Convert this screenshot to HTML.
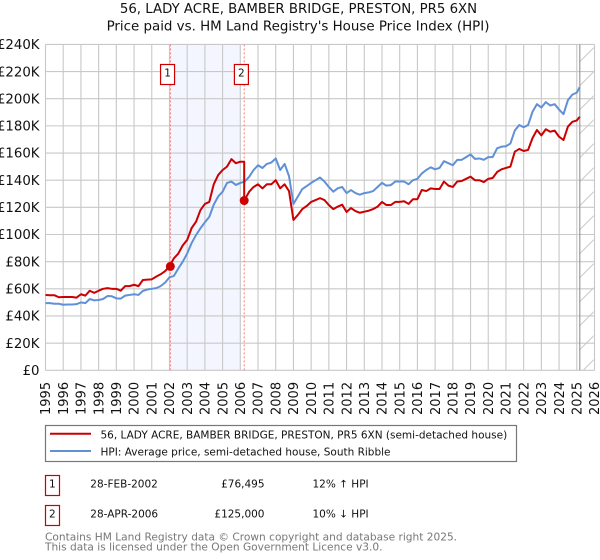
<!DOCTYPE html>
<html>
<head>
<meta charset="utf-8">
<title>56, LADY ACRE price paid vs HPI</title>
<style>
html,body{margin:0;padding:0;background:#fff}
svg{display:block}
text{font-family:"DejaVu Sans",sans-serif;fill:#111}
</style>
</head>
<body>
<svg id="chart" width="600" height="560" viewBox="0 0 600 560" xmlns="http://www.w3.org/2000/svg">
<defs>
<pattern id="hatch" patternUnits="userSpaceOnUse" width="24" height="24" patternTransform="translate(17.5,0)">
<line x1="0" y1="24" x2="24" y2="0" stroke="#ccc" stroke-width="1.1"/>
</pattern>
</defs>
<text x="298.5" y="13" text-anchor="middle" font-size="13.3">56, LADY ACRE, BAMBER BRIDGE, PRESTON, PR5 6XN</text>
<text x="298" y="30.5" text-anchor="middle" font-size="13.4">Price paid vs. HM Land Registry's House Price Index (HPI)</text>
<rect id="shade" fill="#f3f6fe"/>
<rect id="hatchArea" fill="url(#hatch)"/>
<g id="grid"></g>
<g id="axes"></g>
<g id="saleLines"></g>
<path id="hpiLine" fill="none" stroke="#6090d6" stroke-width="2" stroke-linejoin="round"/>
<path id="paidLine" fill="none" stroke="#cc0000" stroke-width="2" stroke-linejoin="round"/>
<g id="saleMarkers"></g>

<rect x="45.5" y="425.5" width="471" height="36" fill="#fff" stroke="#777" stroke-width="1.2"/>
<line x1="50" x2="91" y1="433.7" y2="433.7" stroke="#cc0000" stroke-width="2"/>
<line x1="50" x2="91" y1="451" y2="451" stroke="#6090d6" stroke-width="2"/>
<text x="100.5" y="438.5" font-size="10.5">56, LADY ACRE, BAMBER BRIDGE, PRESTON, PR5 6XN (semi-detached house)</text>
<text x="100.5" y="455.5" font-size="10.5">HPI: Average price, semi-detached house, South Ribble</text>

<rect x="45.5" y="475.5" width="14" height="20" fill="#fff" stroke="#cc0000" stroke-width="1.2"/>
<text x="52.3" y="487.5" text-anchor="middle" font-size="10.5">1</text>
<text x="90.3" y="487.5" font-size="10.5">28-FEB-2002</text>
<text x="264.5" y="487.5" text-anchor="end" font-size="10.5">£76,495</text>
<text x="312.5" y="487.5" font-size="10.5">12% ↑ HPI</text>
<rect x="45.5" y="505.5" width="14" height="20" fill="#fff" stroke="#cc0000" stroke-width="1.2"/>
<text x="52.3" y="517.5" text-anchor="middle" font-size="10.5">2</text>
<text x="90.3" y="517.5" font-size="10.5">28-APR-2006</text>
<text x="264.5" y="517.5" text-anchor="end" font-size="10.5">£125,000</text>
<text x="312.5" y="517.5" font-size="10.5">10% ↓ HPI</text>
<text x="45" y="540.5" font-size="10.6" style="fill:#777">Contains HM Land Registry data © Crown copyright and database right 2025.</text>
<text x="45" y="550.5" font-size="10.6" style="fill:#777">This data is licensed under the Open Government Licence v3.0.</text>
</svg>
<script>
var yearTicks = [1995,1996,1997,1998,1999,2000,2001,2002,2003,2004,2005,2006,2007,2008,2009,2010,2011,2012,2013,2014,2015,2016,2017,2018,2019,2020,2021,2022,2023,2024,2025,2026];
var priceTicks = [0,20,40,60,80,100,120,140,160,180,200,220,240];
var priceTickLabels = ["£0","£20K","£40K","£60K","£80K","£100K","£120K","£140K","£160K","£180K","£200K","£220K","£240K"];

// HPI, £K, one reading per quarter from 1995 Q1; the last reading is at dataEndYear
var hpiValues = [49.5,49.5,49,49, 48.3,48.5,48.5,48.7, 50,49.5,52.5,51.5, 51.8,52.5,54.7,54.5, 53,52.8,55,55.5, 56,55.5,58.5,59.5, 60,60.5,62,64.5,
 68.5,69.5,75,80, 86,93.7,99.6,104.6, 109,113,122,128, 131.5,138,139,136.5, 138,139,142.5,147.5, 151,149,152,153,
 156,147.5,152,143, 122.5,128,133.5,135.7, 138,140,142,139, 135,131.5,134,135, 130.5,132.7,130.5,129.3, 130.5,131,132,135,
 138,136,136.4,139, 139,139,137,140, 141,145,147.5,149.5, 148,149,154,152.5, 151,155,155,157, 159,155.7,156,155,
 157,157,163.5,164.7, 165,167,176.6,180.6, 179,180.6,190.4,196, 193.5,197.5,195,196, 192,188.6,199,203, 204.5,208.5];
var dataEndYear = 2025.17;

// Price paid, £K: quarterly readings before the second sale, and from 2006.5 after it
var paidBeforeSale = [55.5,55.3,55.3,53.8, 54,54,54,53.5, 56,55,58.6,57, 58.6,60,60.5,60, 60,58.6,62,62, 63,62,66.5,66.8, 67,69,70.7,73,
 76.5,82.5,86,92, 96,104.7,109.4,118, 122.5,124,137,143.8, 147.5,150,155.5,152.5, 153.6];
var paidAfterSale = [131.5,135,137,134,137,137,
 140,134,137,132, 110.7,114.4,118.7,121, 124,125.4,126.8,125.4, 121.7,118.7,120.5,122, 116.6,119.5,117.3,116, 116.8,117.5,118.7,120.5,
 124,121.7,121.7,124, 124,124.5,122.5,126, 126,132.8,132,134, 133.5,133.5,139,136, 135,139,139.4,141, 142.6,140,140,138.6,
 141,141.6,146,148, 149,150,161,163, 161.5,162.3,171,177, 173,177.5,175.7,176.5, 172,169.6,179.5,183, 184,186.7];
var paidAfterStartYear = 2006.5;

var saleYears = [2002.05,2006.22];
var salePrices = [76.495,125];
var saleLabels = ["1","2"];

var NS = "http://www.w3.org/2000/svg";
var plotLeft = 45.5, plotRight = 594.5, plotTop = 44.4, plotBottom = 370.3;
var yearMin = 1995, yearMax = 2026, priceMax = 240;
function xScale(y){ return plotLeft + (y - yearMin) * (plotRight - plotLeft) / (yearMax - yearMin); }
function yScale(v){ return plotBottom - v * (plotBottom - plotTop) / priceMax; }
function make(tag, parent, attrs, txt){
  var el = document.createElementNS(NS, tag);
  for (var k in attrs) el.setAttribute(k, attrs[k]);
  if (txt !== undefined) el.textContent = txt;
  parent.appendChild(el);
  return el;
}
function toPath(pts){
  return pts.map(function(p, i){ return (i ? "L" : "M") + p[0].toFixed(2) + " " + p[1].toFixed(2); }).join("");
}
var grid = document.getElementById("grid");
var axes = document.getElementById("axes");
yearTicks.forEach(function(yr){
  var x = xScale(yr);
  var gl = make("line", grid, {x1:x, x2:x, y1:plotTop, y2:plotBottom, stroke:"#c8c8c8", "stroke-width":1.1});
  
  
  var t = make("text", axes, {transform:"translate(" + (x + 4.7) + ",415) rotate(-90)", "font-size":13}, String(yr));
  
  
});
priceTicks.forEach(function(v, i){
  var y = yScale(v);
  var gl = make("line", grid, {x1:plotLeft, x2:plotRight, y1:y, y2:y, stroke:"#c8c8c8", "stroke-width":1.1});
  
  
  var t = make("text", axes, {x:39.5, y:y + 4.7, "text-anchor":"end", "font-size":13.3}, priceTickLabels[i]);
  
  
});
var shade = document.getElementById("shade");
shade.setAttribute("x", xScale(saleYears[0]));
shade.setAttribute("y", plotTop);
shade.setAttribute("width", xScale(2006) - xScale(saleYears[0]));
shade.setAttribute("height", plotBottom - plotTop);
var hatchArea = document.getElementById("hatchArea");
hatchArea.setAttribute("x", xScale(dataEndYear));
hatchArea.setAttribute("y", plotTop);
hatchArea.setAttribute("width", plotRight - xScale(dataEndYear));
hatchArea.setAttribute("height", plotBottom - plotTop);
var endLine = make("line", axes, {x1:xScale(dataEndYear), x2:xScale(dataEndYear), y1:plotTop, y2:plotBottom, stroke:"#999", "stroke-width":1.2});



var hpiPts = hpiValues.map(function(v, i){ return [xScale(Math.min(yearMin + i / 4, dataEndYear)), yScale(v)]; });
document.getElementById("hpiLine").setAttribute("d", toPath(hpiPts));

var paidPts = paidBeforeSale.map(function(v, i){ return [xScale(yearMin + i / 4), yScale(v)]; });
paidPts.push([xScale(saleYears[1]), yScale(paidBeforeSale[paidBeforeSale.length - 1])]);
paidPts.push([xScale(saleYears[1]), yScale(salePrices[1])]);
paidAfterSale.forEach(function(v, i){
  paidPts.push([xScale(Math.min(paidAfterStartYear + i / 4, dataEndYear)), yScale(v)]);
});
document.getElementById("paidLine").setAttribute("d", toPath(paidPts));

var saleLines = document.getElementById("saleLines");
var saleMarkers = document.getElementById("saleMarkers");
saleYears.forEach(function(yr, i){
  var x = xScale(yr);
  var dl = make("line", saleLines, {x1:x, x2:x, y1:plotTop, y2:plotBottom, stroke:"#ff7777", "stroke-width":1, "stroke-dasharray":"2 2"});
  
  
  var box = make("rect", saleLines, {x:x - 9.8, y:64.5, width:14, height:20, fill:"#fff", stroke:"#cc0000", "stroke-width":1.2});
  
  
  var lbl = make("text", saleLines, {x:x - 2.8, y:76.5, "text-anchor":"middle", "font-size":10.5}, saleLabels[i]);
  
  
  var c = make("circle", saleMarkers, {cx:x, cy:yScale(salePrices[i]), r:4.5, fill:"#cc0000"});
  
  
});
</script>
</body>
</html>
